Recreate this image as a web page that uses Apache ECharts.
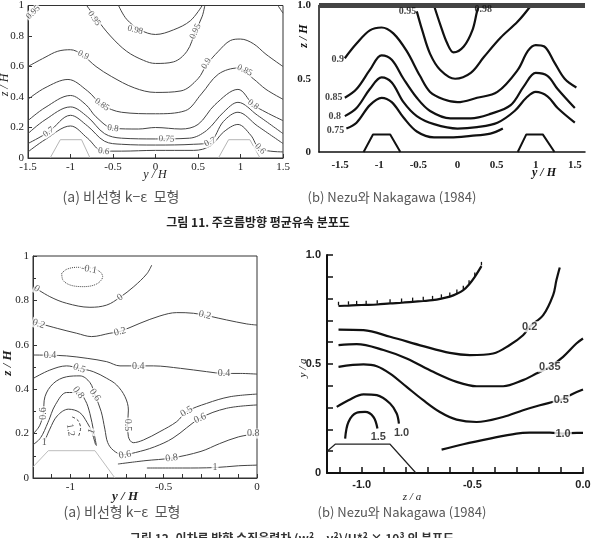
<!DOCTYPE html>
<html>
<head>
<meta charset="utf-8">
<script src="https://cdn.jsdelivr.net/npm/echarts@6/dist/echarts.min.js"></script>
<style>html,body{margin:0;padding:0;background:#fff}#main{width:596px;height:538px}</style>
</head>
<body>
<div id="main"></div>
<script>
// ---- top left: computed streamwise velocity (y/H, z/H) ----
var a1_098 = [[-0.435,1.0],[-0.34,0.91],[-0.18,0.84],[0,0.81],[0.21,0.84],[0.41,0.9],[0.55,1.0]];
var a1_095 = [[-0.81,1.0],[-0.69,0.91],[-0.53,0.8],[-0.34,0.7],[-0.14,0.64],[0,0.62],[0.21,0.63],[0.37,0.7],[0.47,0.83],[0.55,0.93],[0.58,1.0]];
var a1_095L = [[-1.5,0.92],[-1.43,0.96],[-1.38,1.0]];
var a1_095R = [[1.44,1.0],[1.5,0.95]];
var a1_090 = [[-1.5,0.6],[-1.3,0.66],[-1.15,0.7],[-1.0,0.71],[-0.87,0.68],[-0.7,0.6],[-0.52,0.535],[-0.25,0.46],[0,0.43],[0.3,0.44],[0.5,0.52],[0.6,0.61],[0.74,0.7],[0.88,0.77],[1.0,0.78],[1.15,0.75],[1.3,0.68],[1.5,0.6]];
var a1_085 = [[-1.5,0.385],[-1.3,0.46],[-1.03,0.515],[-0.8,0.44],[-0.63,0.35],[-0.4,0.3],[0,0.29],[0.35,0.31],[0.54,0.42],[0.74,0.55],[0.97,0.59],[1.15,0.52],[1.3,0.45],[1.5,0.385]];
var a1_080 = [[-1.5,0.245],[-1.3,0.33],[-1.0,0.41],[-0.82,0.35],[-0.7,0.27],[-0.5,0.195],[-0.2,0.19],[0,0.2],[0.3,0.19],[0.5,0.22],[0.7,0.35],[0.97,0.45],[1.15,0.35],[1.3,0.3],[1.5,0.245]];
var a1_075 = [[-1.5,0.16],[-1.3,0.25],[-1.0,0.335],[-0.8,0.27],[-0.6,0.16],[-0.4,0.13],[0,0.125],[0.4,0.13],[0.6,0.18],[0.8,0.3],[0.97,0.365],[1.2,0.28],[1.5,0.16]];
var a1_070 = [[-1.5,0.095],[-1.26,0.17],[-1.0,0.28],[-0.8,0.21],[-0.6,0.11],[-0.4,0.09],[0,0.085],[0.45,0.09],[0.64,0.105],[0.8,0.24],[0.97,0.3],[1.2,0.21],[1.5,0.095]];
var a1_060 = [[-1.5,0.04],[-1.3,0.12],[-1.0,0.21],[-0.8,0.13],[-0.62,0.045],[-0.4,0.045],[0,0.05],[0.45,0.05],[0.65,0.08],[0.8,0.17],[0.97,0.22],[1.12,0.15],[1.23,0.06],[1.5,0.04]];
var a1_ridgeL = [[-1.24,0],[-1.12,0.12],[-0.87,0.12],[-0.77,0]];
var a1_ridgeR = [[0.74,0],[0.86,0.12],[1.11,0.12],[1.23,0]];
var a1_labels = [[-1.44,0.955,'0.95',45],[-0.72,0.915,'0.95',-55],[-0.24,0.84,'0.98',-15],[0.47,0.83,'0.95',65],
  [-0.85,0.675,'0.9',-25],[0.6,0.62,'0.9',60],[-0.63,0.35,'0.85',-35],[1.05,0.575,'0.85',-25],
  [-0.5,0.195,'0.8',-8],[1.15,0.35,'0.8',-35],[0.13,0.125,'0.75',-3],[-1.26,0.17,'0.7',35],
  [0.64,0.105,'0.7',25],[-0.61,0.045,'0.6',-8],[1.23,0.06,'0.6',-45]];

// ---- top right: Nezu & Nakagawa (1984) ----
var b1_098 = [[-0.3,1.0],[-0.22,0.87],[-0.13,0.74],[-0.05,0.68],[0.08,0.72],[0.19,0.83],[0.25,0.96],[0.27,1.0]];
var b1_095 = [[-0.52,0.96],[-0.45,0.83],[-0.35,0.67],[-0.22,0.56],[-0.03,0.5],[0.17,0.54],[0.34,0.65],[0.55,0.78],[0.77,0.89],[0.94,1.0]];
var b1_090 = [[-1.44,0.64],[-1.29,0.74],[-1.12,0.83],[-0.97,0.85],[-0.82,0.81],[-0.65,0.69],[-0.48,0.52],[-0.35,0.41],[-0.18,0.36],[0,0.34],[0.25,0.37],[0.51,0.41],[0.77,0.56],[0.9,0.69],[1.0,0.73],[1.11,0.72],[1.24,0.61],[1.37,0.5],[1.52,0.44]];
var b1_085 = [[-1.44,0.37],[-1.29,0.43],[-1.12,0.56],[-0.97,0.66],[-0.84,0.63],[-0.69,0.5],[-0.52,0.37],[-0.35,0.28],[-0.09,0.23],[0.17,0.23],[0.42,0.26],[0.68,0.32],[0.85,0.45],[1.0,0.54],[1.15,0.52],[1.28,0.43],[1.5,0.3]];
var b1_080 = [[-1.44,0.245],[-1.29,0.3],[-1.12,0.43],[-0.97,0.51],[-0.84,0.475],[-0.69,0.34],[-0.52,0.245],[-0.3,0.19],[0,0.16],[0.25,0.17],[0.51,0.2],[0.73,0.28],[0.88,0.37],[1.0,0.41],[1.15,0.38],[1.28,0.3],[1.5,0.2]];
var b1_075 = [[-1.42,0.16],[-1.29,0.2],[-1.12,0.32],[-0.97,0.37],[-0.84,0.34],[-0.69,0.235],[-0.52,0.14],[-0.3,0.1],[-0.09,0.1],[0.17,0.11],[0.42,0.125],[0.58,0.16]];
var b1_surface = [[-1.77,1],[1.63,1]];
var b1_ridgeL = [[-1.2,0],[-1.08,0.12],[-0.86,0.12],[-0.73,0]];
var b1_ridgeR = [[0.77,0],[0.88,0.12],[1.09,0.12],[1.24,0]];
var b1_labels = [[-1.53,0.63,'0.9'],[-1.58,0.37,'0.85'],[-1.57,0.24,'0.8'],[-1.56,0.15,'0.75'],[-0.64,0.96,'0.95'],[0.33,0.97,'0.98']];

// ---- bottom left: computed normal stress difference ----
var a2_m01 = [[-1.046,0.922],[-1.02,0.94],[-0.966,0.949],[-0.895,0.947],[-0.841,0.929],[-0.827,0.907],[-0.859,0.874],[-0.93,0.862],[-1.0,0.869],[-1.04,0.892],[-1.046,0.922]];
var a2_0 = [[-1.198,0.862],[-1.11,0.817],[-1.02,0.787],[-0.895,0.769],[-0.805,0.779],[-0.734,0.814],[-0.66,0.862],[-0.59,0.92],[-0.564,0.959]];
var a2_02 = [[-1.198,0.704],[-1.07,0.674],[-0.966,0.652],[-0.886,0.637],[-0.788,0.652],[-0.734,0.66],[-0.627,0.697],[-0.52,0.73],[-0.43,0.745],[-0.34,0.742],[-0.163,0.712],[-0.055,0.694],[0,0.689]];
var a2_04 = [[-1.198,0.554],[-1.11,0.553],[-1.02,0.55],[-0.91,0.539],[-0.805,0.524],[-0.734,0.505],[-0.636,0.505],[-0.555,0.505],[-0.41,0.494],[-0.27,0.479],[-0.177,0.471],[-0.09,0.471],[0,0.468]];
var a2_05 = [[-1.198,0.449],[-1.11,0.486],[-1.02,0.505],[-0.952,0.494],[-0.877,0.479],[-0.805,0.449],[-0.752,0.419],[-0.707,0.366],[-0.689,0.306],[-0.693,0.239],[-0.689,0.186],[-0.663,0.159],[-0.609,0.171],[-0.52,0.209],[-0.43,0.254],[-0.377,0.299],[-0.27,0.336],[-0.145,0.366],[0,0.378]];
var a2_06 = [[-1.198,0.2],[-1.165,0.235],[-1.145,0.291],[-1.136,0.366],[-1.091,0.426],[-1.02,0.456],[-0.948,0.46],[-0.895,0.43],[-0.868,0.374],[-0.835,0.3],[-0.815,0.22],[-0.8,0.16],[-0.77,0.125],[-0.72,0.105],[-0.65,0.115],[-0.55,0.14],[-0.45,0.18],[-0.305,0.269],[-0.163,0.314],[0,0.329]];
var a2_08a = [[-1.2,0.15],[-1.16,0.18],[-1.12,0.25],[-1.08,0.33],[-1.02,0.385],[-0.957,0.385],[-0.92,0.35],[-0.895,0.29],[-0.875,0.21],[-0.86,0.145]];
var a2_10a = [[-1.14,0.16],[-1.11,0.22],[-1.07,0.28],[-1.01,0.31],[-0.95,0.295],[-0.91,0.25],[-0.886,0.209],[-0.865,0.15]];
var a2_12 = [[-0.99,0.275],[-0.96,0.26],[-0.945,0.225],[-0.955,0.19]];
var a2_08b = [[-0.745,0.063],[-0.6,0.078],[-0.457,0.09],[-0.3,0.12],[-0.2,0.155],[-0.1,0.185],[0,0.2]];
var a2_10b = [[-0.59,0.045],[-0.4,0.045],[-0.225,0.047],[-0.1,0.055],[0,0.058]];
var a2_ridge = [[-1.2,0.05],[-1.118,0.123],[-0.868,0.123],[-0.761,0]];
var a2_labels = [[-0.9,0.94,'-0.1',-10],[-1.18,0.853,'0',-30],[-0.734,0.814,'0',35],[-1.17,0.694,'0.2',-20],
  [-0.734,0.659,'0.2',15],[-0.279,0.734,'0.2',-12],[-1.109,0.553,'0.4',0],[-0.636,0.505,'0.4',0],
  [-0.177,0.471,'0.4',0],[-0.952,0.494,'0.5',-20],[-0.693,0.239,'0.5',-90],[-0.377,0.299,'0.5',30],
  [-1.145,0.291,'0.6',90],[-0.868,0.374,'0.6',-55],[-0.707,0.104,'0.6',10],[-0.305,0.269,'0.6',25],
  [-0.957,0.385,'0.8',-55],[-0.457,0.09,'0.8',8],[-0.02,0.2,'0.8',0],[-0.225,0.047,'1',0],
  [-1.14,0.16,'1',0],[-0.886,0.209,'1',70],[-1.0,0.216,'1.2',-80]];

// ---- bottom right: Nezu & Nakagawa (1984) ----
var b2_000 = [[-1.105,0.766],[-1.06,0.768],[-1.023,0.77],[-0.98,0.771],[-0.93,0.773],[-0.872,0.778],[-0.82,0.781],[-0.77,0.785],[-0.722,0.789],[-0.68,0.793],[-0.64,0.8],[-0.602,0.809],[-0.57,0.822],[-0.541,0.839],[-0.515,0.865],[-0.489,0.9],[-0.459,0.949]];
var b2_020 = [[-1.105,0.658],[-0.992,0.655],[-0.872,0.625],[-0.722,0.582],[-0.602,0.551],[-0.511,0.541],[-0.406,0.548],[-0.331,0.587],[-0.271,0.632],[-0.241,0.671],[-0.18,0.724],[-0.135,0.816],[-0.12,0.885],[-0.105,0.943]];
var b2_035 = [[-1.105,0.587],[-1.023,0.591],[-0.902,0.564],[-0.797,0.525],[-0.677,0.464],[-0.571,0.418],[-0.481,0.398],[-0.361,0.398],[-0.271,0.426],[-0.211,0.456],[-0.15,0.487],[-0.09,0.533],[-0.03,0.594],[0,0.617]];
var b2_050 = [[-1.105,0.487],[-0.992,0.498],[-0.932,0.49],[-0.872,0.456],[-0.797,0.395],[-0.722,0.334],[-0.647,0.28],[-0.571,0.245],[-0.481,0.234],[-0.361,0.257],[-0.271,0.288],[-0.195,0.311],[-0.098,0.337],[-0.045,0.364],[0,0.383]];
var b2_100a = [[-1.113,0.303],[-1.06,0.334],[-0.992,0.361],[-0.932,0.357],[-0.872,0.319],[-0.842,0.273],[-0.832,0.227]];
var b2_150 = [[-1.075,0.158],[-1.06,0.234],[-1.023,0.276],[-0.985,0.28],[-0.947,0.257],[-0.929,0.204]];
var b2_100b = [[-0.639,0.107],[-0.541,0.132],[-0.421,0.158],[-0.301,0.181],[-0.241,0.185],[-0.15,0.185],[-0.09,0.181],[-0.027,0.184],[0,0.184]];
var b2_ridge = [[-1.155,0.101],[-1.12,0.132],[-0.872,0.132],[-0.755,0]];
var b2_labels = [[-0.241,0.671,'0.2'],[-0.15,0.487,'0.35'],[-0.098,0.337,'0.5'],[-0.09,0.181,'1.0'],[-0.925,0.165,'1.5'],[-0.82,0.184,'1.0']];

// tick values
var tenthsA = [-1.1,-1,-0.9,-0.8,-0.7,-0.6,-0.5,-0.4,-0.3,-0.2,-0.1,0];
var tenthsZ = [0,0.1,0.2,0.3,0.4,0.5,0.6,0.7,0.8,0.9,1];

var chart = echarts.init(document.getElementById('main'));

var SERIF = 'Liberation Serif';
var SANS = 'Liberation Sans';

function line(gi, data, color, width, extra) {
  var s = {
    type: 'line', xAxisIndex: gi, yAxisIndex: gi, data: data,
    showSymbol: false, smooth: 0.35, silent: true, z: 3,
    lineStyle: {color: color, width: width}
  };
  if (extra) for (var k in extra) s[k] = extra[k];
  return s;
}
function poly(gi, data, color, width) {
  return line(gi, data, color, width, {smooth: false});
}
function labels(gi, list, font) {
  return {
    type: 'scatter', xAxisIndex: gi, yAxisIndex: gi, symbolSize: 1, silent: true, z: 5,
    itemStyle: {color: 'rgba(0,0,0,0)'},
    data: list.map(function (d) {
      return {value: [d[0], d[1], d[2]], label: {rotate: d[3] || 0}};
    }),
    label: {
      show: true, position: 'inside', formatter: function (p) { return p.value[2]; },
      color: font.color, fontFamily: font.family, fontSize: font.size, fontWeight: font.weight || 'normal',
      backgroundColor: font.bg || 'transparent', padding: [0, 1]
    }
  };
}

var thinA = '#444';
var series = [];
// top left
[a1_098, a1_095, a1_095L, a1_095R, a1_090, a1_085, a1_080, a1_075, a1_070, a1_060].forEach(function (d) {
  series.push(line(0, d, thinA, 1));
});
series.push(poly(0, a1_ridgeL, '#b5b5b5', 1), poly(0, a1_ridgeR, '#b5b5b5', 1));
series.push(labels(0, a1_labels, {color: '#333', family: SERIF, size: 9, bg: '#fff'}));
// top right
[b1_098, b1_095, b1_090, b1_085, b1_080, b1_075].forEach(function (d) {
  series.push(line(1, d, '#111', 2.2));
});
series.push(poly(1, b1_surface, '#444', 5));
series.push(poly(1, b1_ridgeL, '#111', 2), poly(1, b1_ridgeR, '#111', 2));
series.push(labels(1, b1_labels, {color: '#111', family: SERIF, size: 10, weight: 'bold'}));
// bottom left
series.push(line(2, a2_m01, thinA, 1, {lineStyle: {color: thinA, width: 1, type: 'dotted'}}));
[a2_0, a2_02, a2_04, a2_05, a2_06, a2_08a, a2_10a, a2_08b, a2_10b].forEach(function (d) {
  series.push(line(2, d, thinA, 1));
});
series.push(line(2, a2_12, thinA, 1, {lineStyle: {color: thinA, width: 1, type: [3, 2]}}));
series.push(poly(2, a2_ridge, '#bdbdbd', 1));
series.push(labels(2, a2_labels, {color: '#333', family: SERIF, size: 10, bg: '#fff'}));
// bottom right (hatched line = zero contour)
series.push(line(3, b2_000, '#111', 2.2, {
  showSymbol: true, symbol: 'rect', symbolSize: [1.3, 3.5], symbolOffset: [0, -2.5],
  itemStyle: {color: '#111'}
}));
[b2_020, b2_035, b2_050, b2_100a, b2_150, b2_100b].forEach(function (d) {
  series.push(line(3, d, '#111', 2.2));
});
series.push(poly(3, b2_ridge, '#222', 1.2));
series.push(labels(3, b2_labels, {color: '#111', family: SANS, size: 11, weight: 'bold', bg: '#fff'}));

function axisBase(font, extra) {
  var a = {
    type: 'value', splitLine: {show: false},
    axisLine: {show: true, onZero: false, lineStyle: {color: '#333', width: 1}},
    axisTick: {show: true, inside: true, length: 4, lineStyle: {color: '#333'}},
    axisLabel: {color: '#222', fontFamily: font.family, fontSize: font.size, fontWeight: font.weight || 'normal', margin: font.margin || 4}
  };
  for (var k in extra) {
    if (typeof extra[k] === 'object' && a[k] && !Array.isArray(extra[k])) {
      for (var j in extra[k]) a[k][j] = extra[k][j];
    } else a[k] = extra[k];
  }
  return a;
}

var fA = {family: SERIF, size: 11, margin: 4};
var fB1 = {family: SERIF, size: 11, weight: 'bold', margin: 8};
var fB2 = {family: SANS, size: 11, weight: 'bold', margin: 6};

var option = {
  animation: false,
  backgroundColor: '#fff',
  grid: [
    {left: 28, top: 3, width: 255, height: 155, show: true, borderColor: '#333', borderWidth: 1},
    {left: 319, top: 0, width: 266, height: 152},
    {left: 33, top: 256, width: 224, height: 222, show: true, borderColor: '#333', borderWidth: 1},
    {left: 327, top: 255, width: 256, height: 218}
  ],
  xAxis: [
    axisBase(fA, {gridIndex: 0, min: -1.5, max: 1.5, interval: 0.5}),
    axisBase(fB1, {gridIndex: 1, min: -1.77, max: 1.63,
      axisLine: {lineStyle: {color: '#111', width: 1.5}},
      axisTick: {show: false},
      axisLabel: {customValues: [-1.5, -1, -0.5, 0, 0.5, 1, 1.5]}}),
    axisBase(fA, {gridIndex: 2, min: -1.2, max: 0,
      axisTick: {customValues: tenthsA},
      axisLabel: {customValues: [-1, -0.5, 0]}}),
    axisBase(fB2, {gridIndex: 3, min: -1.157, max: 0,
      axisLine: {lineStyle: {color: '#111', width: 2}},
      axisTick: {customValues: tenthsA, length: 6, lineStyle: {color: '#111', width: 1.5}},
      axisLabel: {customValues: [-1, -0.5, 0], formatter: function (v) { return v.toFixed(1); }}})
  ],
  yAxis: [
    axisBase(fA, {gridIndex: 0, min: 0, max: 1, interval: 0.2}),
    axisBase(fB1, {gridIndex: 1, min: 0, max: 1,
      axisLine: {lineStyle: {color: '#111', width: 1.5}},
      axisTick: {show: false},
      axisLabel: {customValues: [0, 0.5, 1], formatter: function (v) { return v === 1 ? '1.0' : String(v); }}}),
    axisBase(fA, {gridIndex: 2, min: 0, max: 1, interval: 0.2,
      minorTick: {show: true, splitNumber: 2, length: 3}}),
    axisBase(fB2, {gridIndex: 3, min: 0, max: 1,
      axisLine: {lineStyle: {color: '#111', width: 2}},
      axisTick: {customValues: tenthsZ, length: 6, lineStyle: {color: '#111', width: 1.5}},
      axisLabel: {customValues: [0, 0.5, 1], formatter: function (v) { return v === 0 ? '0' : v.toFixed(1); }}})
  ],
  graphic: [
    {type: 'text', x: 155, y: 175, style: {text: 'y / H', font: 'italic 12px "Liberation Serif"', fill: '#222', align: 'center', verticalAlign: 'middle'}},
    {type: 'text', x: 5, y: 85, rotation: Math.PI / 2, style: {text: 'z / H', font: 'italic 12px "Liberation Serif"', fill: '#222', align: 'center', verticalAlign: 'middle'}},
    {type: 'text', x: 544, y: 173, style: {text: 'y / H', font: 'italic bold 12px "Liberation Serif"', fill: '#111', align: 'center', verticalAlign: 'middle'}},
    {type: 'text', x: 304, y: 36, rotation: Math.PI / 2, style: {text: 'z / H', font: 'italic bold 12px "Liberation Serif"', fill: '#111', align: 'center', verticalAlign: 'middle'}},
    {type: 'text', x: 125, y: 497, style: {text: 'y / H', font: 'italic bold 13px "Liberation Serif"', fill: '#222', align: 'center', verticalAlign: 'middle'}},
    {type: 'text', x: 8, y: 363, rotation: Math.PI / 2, style: {text: 'z / H', font: 'italic bold 13px "Liberation Serif"', fill: '#222', align: 'center', verticalAlign: 'middle'}},
    {type: 'text', x: 412, y: 497, style: {text: 'z / a', font: 'italic 11px "Liberation Serif"', fill: '#222', align: 'center', verticalAlign: 'middle'}},
    {type: 'text', x: 303, y: 368, rotation: Math.PI / 2, style: {text: 'y / a', font: 'italic 11px "Liberation Serif"', fill: '#222', align: 'center', verticalAlign: 'middle'}},
    {type: 'text', x: 121, y: 197, style: {text: '(a) 비선형 k−ε  모형', font: '14px "Noto Sans CJK KR"', fill: '#555', align: 'center', verticalAlign: 'middle'}},
    {type: 'text', x: 392, y: 197, style: {text: '(b) Nezu와 Nakagawa (1984)', font: '13px "Noto Sans CJK KR"', fill: '#555', align: 'center', verticalAlign: 'middle'}},
    {type: 'text', x: 258, y: 222, style: {text: '그림 11. 주흐름방향 평균유속 분포도', font: 'bold 12px "Noto Sans CJK KR"', fill: '#222', align: 'center', verticalAlign: 'middle'}},
    {type: 'text', x: 122, y: 512, style: {text: '(a) 비선형 k−ε  모형', font: '14px "Noto Sans CJK KR"', fill: '#555', align: 'center', verticalAlign: 'middle'}},
    {type: 'text', x: 402, y: 512, style: {text: '(b) Nezu와 Nakagawa (1984)', font: '13px "Noto Sans CJK KR"', fill: '#555', align: 'center', verticalAlign: 'middle'}},
    {type: 'text', x: 292, y: 532, style: {text: '그림 12. 이차류 방향 수직응력차 (w² − v²)/U*² × 10³ 의 분포도', font: 'bold 12px "Noto Sans CJK KR"', fill: '#333', align: 'center', verticalAlign: 'top'}}
  ],
  series: series
};
chart.setOption(option);
</script>
</body>
</html>
